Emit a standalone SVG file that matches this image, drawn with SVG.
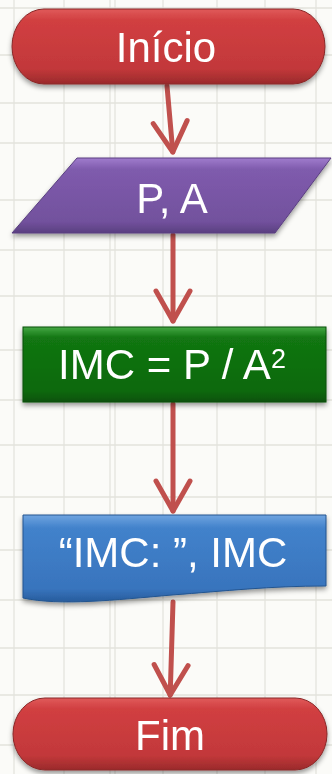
<svg xmlns="http://www.w3.org/2000/svg" width="332" height="774" viewBox="0 0 332 774">
  <style>
    .grid line { stroke: #e3e3dd; stroke-width: 1.3; }
    .lbl { font-family: "Liberation Sans", Arial, sans-serif; font-size: 42px; fill: #ffffff; text-anchor: middle; }
    .conn { stroke: #c0504d; stroke-width: 5; fill: none; stroke-linecap: round; }
    .node { filter: url(#shadow); }
  </style>
  <defs>
    <filter id="shadow" x="-10%" y="-20%" width="120%" height="150%">
      <feDropShadow dx="0" dy="3" stdDeviation="2.5" flood-color="#000" flood-opacity="0.4"/>
    </filter>
    <linearGradient id="gRed" x1="0" y1="0" x2="0" y2="1">
      <stop offset="0" stop-color="#e05a5a"/>
      <stop offset="0.15" stop-color="#d13f41"/>
      <stop offset="0.8" stop-color="#c2383a"/>
      <stop offset="1" stop-color="#9a2a2b"/>
    </linearGradient>
    <linearGradient id="gPurple" x1="0" y1="0" x2="0" y2="1">
      <stop offset="0" stop-color="#a07ccd"/>
      <stop offset="0.15" stop-color="#7f5bad"/>
      <stop offset="0.85" stop-color="#72519d"/>
      <stop offset="1" stop-color="#5a3f80"/>
    </linearGradient>
    <linearGradient id="gGreen" x1="0" y1="0" x2="0" y2="1">
      <stop offset="0" stop-color="#45a845"/>
      <stop offset="0.14" stop-color="#127612"/>
      <stop offset="0.85" stop-color="#0c690c"/>
      <stop offset="1" stop-color="#0a520a"/>
    </linearGradient>
    <linearGradient id="gBlue" x1="0" y1="0" x2="0" y2="1">
      <stop offset="0" stop-color="#6fa4e0"/>
      <stop offset="0.15" stop-color="#4282cb"/>
      <stop offset="0.85" stop-color="#3874bd"/>
      <stop offset="1" stop-color="#275c9c"/>
    </linearGradient>
    <marker id="ah" markerUnits="userSpaceOnUse" viewBox="-40 -30 50 60" markerWidth="50" markerHeight="60" refX="0" refY="0" orient="auto" overflow="visible">
      <path d="M-30,-17 L0,0 L-30,17" fill="none" stroke="#c0504d" stroke-width="5" stroke-linecap="round" stroke-linejoin="round"/>
    </marker>
  </defs>

  <rect width="332" height="774" fill="#fbfbf8"/>
  <g class="grid">
    <line x1="14" y1="0" x2="14" y2="774"/>
    <line x1="64" y1="0" x2="64" y2="774"/>
    <line x1="110" y1="0" x2="110" y2="774"/>
    <line x1="115" y1="0" x2="115" y2="774"/>
    <line x1="163" y1="0" x2="163" y2="774"/>
    <line x1="217" y1="0" x2="217" y2="774"/>
    <line x1="265" y1="0" x2="265" y2="774"/>
    <line x1="316" y1="0" x2="316" y2="774"/>
    <line x1="0" y1="8" x2="332" y2="8"/>
    <line x1="0" y1="55" x2="332" y2="55"/>
    <line x1="0" y1="103" x2="332" y2="103"/>
    <line x1="0" y1="143" x2="332" y2="143"/>
    <line x1="0" y1="200" x2="332" y2="200"/>
    <line x1="0" y1="250" x2="332" y2="250"/>
    <line x1="0" y1="296" x2="332" y2="296"/>
    <line x1="0" y1="350" x2="332" y2="350"/>
    <line x1="0" y1="400" x2="332" y2="400"/>
    <line x1="0" y1="445" x2="332" y2="445"/>
    <line x1="0" y1="497" x2="332" y2="497"/>
    <line x1="0" y1="550" x2="332" y2="550"/>
    <line x1="0" y1="600" x2="332" y2="600"/>
    <line x1="0" y1="648" x2="332" y2="648"/>
    <line x1="0" y1="695" x2="332" y2="695"/>
    <line x1="0" y1="745" x2="332" y2="745"/>
  </g>

  <g id="connectors">
    <line class="conn" x1="167" y1="86" x2="172.8" y2="152" marker-end="url(#ah)"/>
    <line class="conn" x1="173" y1="235" x2="173" y2="321" marker-end="url(#ah)"/>
    <line class="conn" x1="173" y1="404" x2="173" y2="511" marker-end="url(#ah)"/>
    <line class="conn" x1="173" y1="602" x2="170.2" y2="695" marker-end="url(#ah)"/>
  </g>

  <g id="inicio" class="node">
    <rect x="12" y="9" width="313" height="75" rx="32" ry="37.5" fill="url(#gRed)" stroke="#8a2828" stroke-width="1"/>
    <text class="lbl" x="166" y="62">Início</text>
  </g>

  <g id="entrada" class="node">
    <polygon points="77,158 331,158 275,233 12,233" fill="url(#gPurple)" stroke="#5a3f80" stroke-width="1"/>
    <text class="lbl" x="172" y="213">P, A</text>
  </g>

  <g id="processo" class="node">
    <rect x="23" y="327" width="303" height="75" fill="url(#gGreen)" stroke="#0a4f0a" stroke-width="1"/>
    <text class="lbl" x="172" y="379">IMC = P / A<tspan font-size="27" dy="-11">2</tspan></text>
  </g>

  <g id="saida" class="node">
    <path d="M23,515 L326,515 L326,586 C 270,586 225,591 172,595 C 115,600 60,606 23,598 Z" fill="url(#gBlue)" stroke="#24558f" stroke-width="1"/>
    <text class="lbl" x="173" y="567">“IMC: ”, IMC</text>
  </g>

  <g id="fim" class="node">
    <rect x="13" y="698" width="314" height="72" rx="32" ry="36" fill="url(#gRed)" stroke="#8a2828" stroke-width="1"/>
    <text class="lbl" x="170" y="750">Fim</text>
  </g>
</svg>
